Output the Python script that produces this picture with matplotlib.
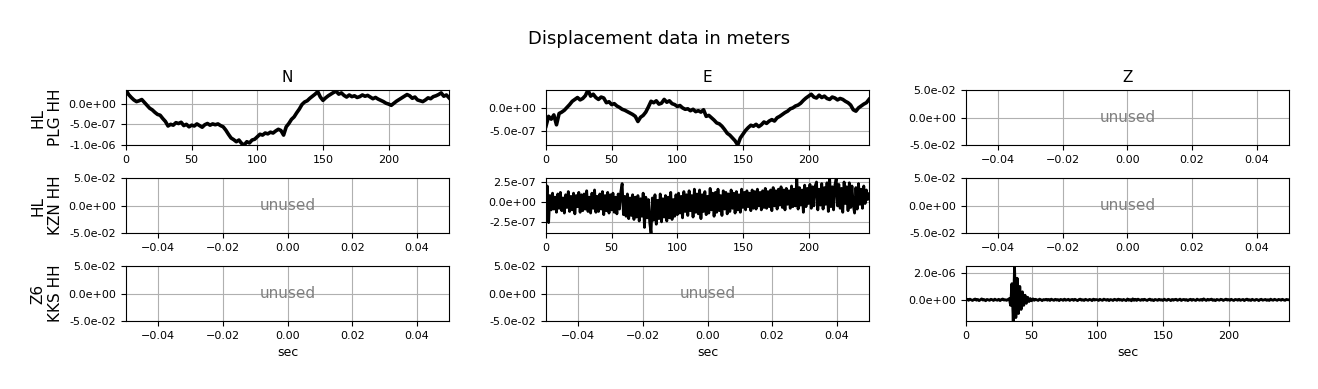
import matplotlib
matplotlib.use('Agg')
import matplotlib.pyplot as plt
from matplotlib.ticker import MaxNLocator, FormatStrFormatter
import numpy as np


stations = ['HL\nPLG HH', 'HL\nKZN HH', 'Z6\nKKS HH']
components = ['N', 'E', 'Z']

# PLG N, every 2 s, units of 1e-7 m
plg_n = [3.3, 2.2, 1.5, 0.9, 0.5, 0.7, 1.0, 0.3, -0.4, -1.1,
         -1.5, -2.1, -2.6, -2.8, -3.6, -4.3, -5.4, -5.0, -5.2, -4.6,
         -4.8, -4.5, -5.3, -5.0, -5.6, -5.2, -5.4, -4.9, -5.3, -5.7,
         -5.1, -4.8, -5.2, -4.9, -5.1, -4.9, -5.3, -5.6, -6.4, -7.4,
         -8.3, -8.7, -9.2, -8.8, -9.6, -10.0, -9.2, -9.5, -8.8, -8.6,
         -8.0, -7.4, -7.6, -7.1, -7.3, -6.9, -7.1, -6.6, -6.2, -6.5,
         -7.6, -5.6, -4.8, -3.8, -3.2, -2.2, -1.3, -0.2, 0.4, 0.7,
         1.3, 1.8, 2.3, 2.9, 1.6, 0.8, 1.4, 1.9, 2.3, 2.7,
         3.0, 2.3, 2.6, 2.0, 1.6, 2.1, 1.7, 1.9, 1.5, 1.7,
         2.1, 1.8, 2.0, 1.6, 1.2, 1.5, 1.1, 0.8, 0.5, 0.1,
         -0.1, -0.4, 0.1, 0.6, 1.0, 1.4, 1.8, 2.2, 1.9, 1.3,
         1.6, 0.9, 0.7, 0.5, 0.9, 1.4, 1.2, 1.7, 1.9, 2.2,
         2.6, 1.8, 2.1, 1.4]

# PLG E, every 2 s, units of 1e-7 m
plg_e = [-3.9, -1.8, -2.4, -1.5, -3.6, -1.2, -0.9, -0.5, 0.1, 0.7,
         1.4, 1.8, 2.2, 1.7, 2.0, 2.6, 3.8, 2.5, 2.9, 2.2,
         1.8, 2.3, 2.1, 1.1, 1.3, 0.7, 0.9, 0.4, 0.1, -0.3,
         -0.5, -0.8, -1.1, -1.4, -1.8, -2.9, -2.0, -1.6, -0.9, 0.2,
         1.4, 1.1, 1.5, 0.8, 1.0, 1.8, 1.2, 1.5, 0.9, 0.7,
         0.3, 0.5, 0.0, -0.3, -0.2, -0.6, -0.3, -0.8, -0.6, -0.9,
         -0.4, -1.8, -1.6, -2.1, -2.6, -3.2, -3.4, -3.9, -4.6, -5.4,
         -5.8, -6.4, -7.0, -7.9, -6.4, -5.6, -4.8, -4.2, -3.7, -3.9,
         -3.5, -4.0, -3.6, -3.0, -3.3, -2.8, -2.5, -2.8, -2.1, -1.8,
         -1.4, -1.0, -0.7, -0.2, 0.0, 0.4, 0.6, 1.0, 1.6, 2.1,
         2.5, 2.9, 2.3, 2.1, 2.7, 2.2, 2.5, 2.0, 1.8, 2.3,
         2.1, 1.7, 2.0, 1.8, 1.4, 1.1, 0.6, -0.4, -0.7, 0.0,
         0.4, 0.8, 1.1, 1.8]

# KZN E, every 1 s, units of 1e-7 m
kzn_e = [0.3, 2.0, -2.6, 0.8, -1.0, 1.1, -0.9, 0.6, -1.3, 1.0,
         -0.8, 1.2, -1.1, 0.5, -1.4, 0.9, -0.7, 1.3, -1.2, 0.7,
         -1.0, 1.1, -1.5, 0.8, -0.6, 1.2, -1.3, 0.9, -1.1, 1.0,
         -0.9, 1.4, -1.2, 0.6, -1.4, 1.1, -0.8, 1.5, -1.3, 0.7,
         -1.2, 1.0, -0.9, 1.3, -1.6, 0.8, -1.1, 1.2, -1.4, 0.9,
         -1.0, 1.1, -1.3, 0.6, -1.5, 1.0, -0.9, 1.3, 2.3, -1.6,
         0.7, -1.8, 1.0, -2.1, 0.5, -1.7, 0.9, -2.2, 0.6, -1.9,
         0.8, -2.4, 0.4, -1.8, 1.1, -3.2, 0.6, -2.0, 0.3, -2.6,
         -3.9, 0.5, -2.3, 0.9, -2.8, 0.2, -2.1, 1.0, -2.5, 0.4,
         -1.9, 0.8, -2.4, 0.6, -2.0, 1.2, -2.2, 0.3, -1.8, 0.9,
         -1.6, 1.1, -1.4, 0.7, -2.0, 1.3, -1.2, 0.9, -1.7, 1.4,
         -1.1, 0.8, -1.9, 1.6, -1.3, 1.0, -1.5, 1.5, -2.1, 0.9,
         -1.2, 1.3, -1.6, 0.7, -1.4, 1.7, -1.0, 1.1, -1.8, 1.2,
         -1.3, 1.6, -1.1, 0.8, -1.7, 1.4, -0.9, 1.2, -1.5, 1.0,
         -1.2, 1.5, -0.8, 1.1, -1.4, 1.3, -1.0, 0.9, -1.3, 1.6,
         -0.7, 1.2, -1.0, 1.4, -0.6, 1.1, -1.1, 1.5, -0.8, 1.3,
         -0.9, 1.6, -0.5, 1.2, -1.0, 1.4, -0.7, 1.7, -0.8, 1.3,
         -0.6, 1.5, -1.1, 1.8, -0.5, 1.4, -0.9, 1.6, -0.4, 1.9,
         -0.7, 1.5, -1.0, 1.7, -0.3, 1.4, -0.8, 2.0, -0.6, 1.6,
         -0.5, 3.0, -0.9, 1.8, -0.4, 1.5, -1.3, 2.1, -0.6, 1.7,
         -0.2, 2.2, -0.8, 1.9, -0.5, 2.0, 2.5, -1.0, 1.6, -0.4,
         2.3, -0.9, 1.8, -0.3, 2.4, -1.2, 3.0, -0.6, 1.9, -1.0,
         2.1, 2.9, -0.5, 2.2, -0.8, 1.7, -1.3, 2.5, -0.2, 1.9,
         -1.1, 2.4, -0.7, 2.0, -0.4, -1.4, 1.8, -0.9, 2.3, -0.3,
         1.6, -0.8, 2.0, -0.2, 1.5, 0.3, 1.0]

# KKS Z, every 1 s, units of 1e-6 m
kks_z = [0.02, 0.05, -0.03, 0.06, 0.01, -0.04, 0.03, 0.07, -0.02, 0.04,
         -0.05, 0.02, 0.08, -0.01, 0.03, -0.06, 0.04, 0.01, -0.03, 0.05,
         0.02, -0.04, 0.06, 0.0, -0.02, 0.05, -0.05, 0.03, 0.07, -0.01,
         0.02, -0.03, 0.04, 0.1, -0.4, 1.2, -1.55, 2.5, -1.3, 1.6,
         -1.0, 1.0, -0.7, 0.6, -0.4, 0.35, -0.25, 0.2, -0.12, 0.1,
         -0.06, 0.08, -0.03, 0.05, 0.01, -0.04, 0.06, 0.02, -0.05, 0.03,
         0.0, 0.05, -0.02, 0.04, -0.04, 0.06, 0.01, -0.03, 0.05, -0.01,
         0.03, -0.05, 0.04, 0.02, -0.03, 0.06, -0.02, 0.01, 0.05, -0.04,
         0.02, 0.04, -0.03, 0.05, 0.0, -0.05, 0.03, 0.06, -0.02, 0.02,
         -0.04, 0.05, 0.01, -0.03, 0.04, 0.02, -0.05, 0.06, -0.01, 0.03,
         0.02, -0.04, 0.05, 0.0, -0.03, 0.06, 0.02, -0.02, 0.04, -0.05,
         0.03, 0.01, -0.04, 0.05, 0.02, -0.03, 0.06, -0.01, 0.03, -0.04,
         0.04, 0.0, -0.05, 0.07, -0.02, 0.03, -0.06, 0.08, -0.03, 0.05,
         -0.04, 0.06, 0.01, -0.03, 0.04, -0.02, 0.05, 0.0, -0.04, 0.03,
         0.06, -0.02, 0.02, -0.05, 0.04, 0.01, -0.03, 0.05, -0.01, 0.02,
         -0.04, 0.06, 0.0, -0.03, 0.05, 0.02, -0.05, 0.04, -0.02, 0.03,
         0.05, -0.03, 0.01, 0.06, -0.04, 0.02, 0.04, -0.02, 0.03, -0.05,
         0.02, 0.05, -0.03, 0.04, 0.0, -0.04, 0.06, 0.01, -0.02, 0.04,
         -0.03, 0.08, 0.02, -0.04, 0.05, -0.01, 0.03, 0.06, -0.03, 0.02,
         -0.05, 0.04, 0.01, -0.02, 0.05, 0.03, -0.04, 0.02, 0.06, -0.01,
         0.03, -0.03, 0.05, 0.0, -0.04, 0.04, 0.02, -0.02, 0.05, -0.03,
         0.01, 0.04, -0.05, 0.03, 0.06, -0.02, 0.02, -0.04, 0.05, 0.0,
         -0.03, 0.04, 0.02, -0.05, 0.03, 0.05, -0.02, 0.01, 0.04, -0.03,
         0.02, -0.04, 0.06, 0.0, -0.02, 0.05, 0.01, -0.03, 0.04, 0.02,
         -0.02, 0.05, 0.0, -0.03, 0.04, 0.02, 0.01]

t_2s = np.arange(len(plg_n)) * 2.0
t_1s = np.arange(len(kzn_e)) * 1.0
t_z = np.arange(len(kks_z)) * 1.0

# (row, col) -> trace
traces = {
    (0, 0): (t_2s, np.array(plg_n) * 1e-7, 2.6),
    (0, 1): (t_2s, np.array(plg_e) * 1e-7, 2.6),
    (1, 1): (t_1s, np.array(kzn_e) * 1e-7, 2.0),
    (2, 2): (t_z, np.array(kks_z) * 1e-6, 2.0),
}

fig, axes = plt.subplots(3, 3, figsize=(13.18, 3.89), dpi=100)
fig.subplots_adjust(left=0.0956, right=0.978, top=0.7686, bottom=0.1748,
                    wspace=0.30, hspace=0.60)
fig.suptitle('Displacement data in meters', fontsize=13, y=0.922)

for i in range(3):
    for j in range(3):
        ax = axes[i, j]
        if (i, j) in traces:
            t, y, lw = traces[(i, j)]
            ax.plot(t, y, color='k', lw=lw)
            ax.set_xlim(t[0], t[-1])
            ax.set_ylim(y.min(), y.max())
        else:
            ax.set_xlim(-0.05, 0.05)
            ax.set_ylim(-0.05, 0.05)
            ax.text(0.5, 0.5, 'unused', color='gray', fontsize=11,
                    ha='center', va='center', transform=ax.transAxes)
        ax.yaxis.set_major_locator(MaxNLocator(nbins=3, steps=[1, 2, 2.5, 5, 10]))
        ax.yaxis.set_major_formatter(FormatStrFormatter('%.1e'))
        ax.tick_params(labelsize=8)
        ax.grid(True, color='#b0b0b0')
        if i == 0:
            ax.set_title(components[j], fontsize=11)
        if i == 2:
            ax.set_xlabel('sec', fontsize=9)
        if j == 0:
            ax.set_ylabel(stations[i], fontsize=11)

fig.savefig('out.png')
